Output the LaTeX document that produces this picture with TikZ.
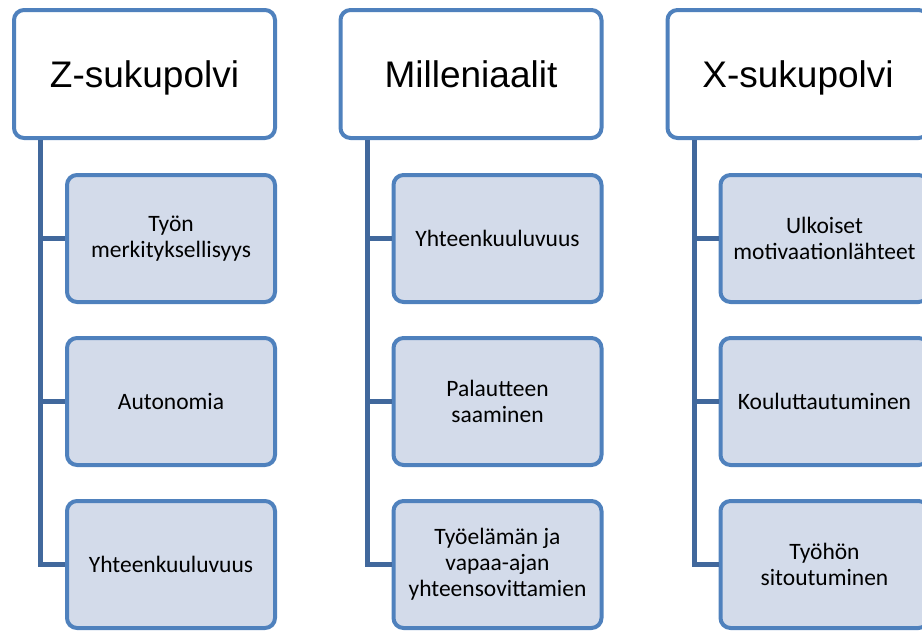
\documentclass[tikz,border=0pt]{standalone}
\usepackage{fontspec}
\setmainfont{Carlito}
\newfontfamily\headfont{Liberation Sans}
\usetikzlibrary{positioning}
\definecolor{boxline}{HTML}{4F81BD}
\definecolor{boxfill}{HTML}{D3DBEA}
\definecolor{linkline}{HTML}{41689C}

\begin{document}
\begin{tikzpicture}[x=1pt, y=-1pt,
	head/.style = {
		draw=boxline, line width=4pt, fill=white, rounded corners=10pt,
		minimum width=261pt, minimum height=128pt,
		text height=30pt, text depth=4pt,
		font=\headfont\fontsize{37}{44}\selectfont
	},
	item/.style = {
		draw=boxline, line width=4pt, fill=boxfill, rounded corners=10pt,
		minimum width=208pt, minimum height=127pt, align=center,
		font=\fontsize{23.5}{26}\selectfont
	},
	link/.style = {
		draw=linkline, line width=5pt
	}]
	\useasboundingbox (0,0) rectangle (922,632);
	% tops of the three trunk lines
	\coordinate (zt) at (40.5,140);
	\coordinate (mt) at (367,140);
	\coordinate (xt) at (694,140);
	\node (zh) [head] at (144.5,74) {Z-sukupolvi};
	\node (mh) [head] at (471,74) {Milleniaalit};
	\node (xh) [head] at (798,74) {X-sukupolvi};
	% Z-sukupolvi
	\node (z1) [item, below=33pt of zh.south east, anchor=north east] {Työn\\merkityksellisyys};
	\node (z2) [item, below=32pt of z1] {Autonomia};
	\node (z3) [item, below=32pt of z2] {Yhteenkuuluvuus};
	% Milleniaalit
	\node (m1) [item, below=33pt of mh.south east, anchor=north east] {Yhteenkuuluvuus};
	\node (m2) [item, below=32pt of m1] {Palautteen\\saaminen};
	\node (m3) [item, below=32pt of m2] {Työelämän ja\\vapaa-ajan\\yhteensovittamien};
	% X-sukupolvi
	\node (x1) [item, below=33pt of xh.south east, anchor=north east] {Ulkoiset\\motivaationlähteet};
	\node (x2) [item, below=32pt of x1] {Kouluttautuminen};
	\node (x3) [item, below=32pt of x2] {Työhön\\sitoutuminen};
	\foreach \c in {z, m, x} {
		\draw[link] (\c t) |- (\c 3.west);
		\draw[link] (\c t) |- (\c 1.west);
		\draw[link] (\c t) |- (\c 2.west);
	}
\end{tikzpicture}
\end{document}
